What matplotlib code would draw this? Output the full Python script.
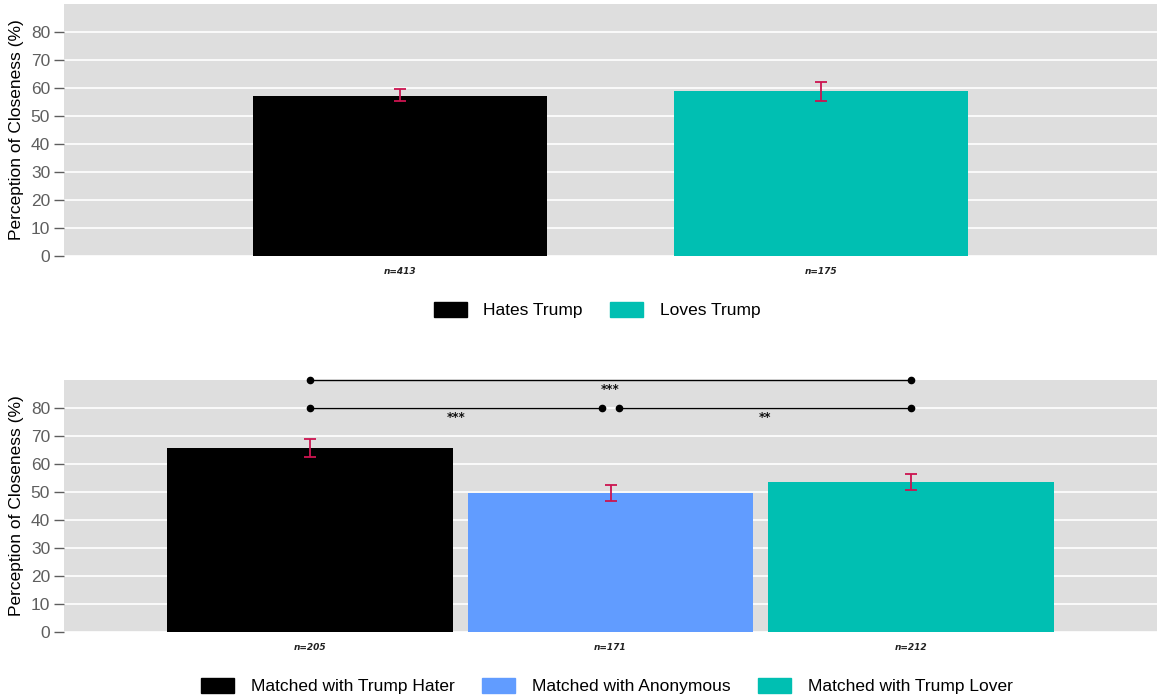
import matplotlib
matplotlib.use("Agg")
import matplotlib.pyplot as plt
from matplotlib.patches import Patch

plt.rcParams['font.family'] = ['Liberation Sans', 'DejaVu Sans']

# Panel 1: attitude toward Trump
top_groups = ["Hates Trump", "Loves Trump"]
top_means = [57.3, 58.8]
top_lo = [55.3, 55.5]
top_hi = [59.8, 62.1]
top_n = ["n=413", "n=175"]
top_colors = ["#000000", "#00BFB2"]

# Panel 2: matching condition
bot_groups = ["Matched with Trump Hater", "Matched with Anonymous", "Matched with Trump Lover"]
bot_means = [65.7, 49.6, 53.6]
bot_lo = [62.5, 46.8, 50.6]
bot_hi = [69.0, 52.4, 56.6]
bot_n = ["n=205", "n=171", "n=212"]
bot_colors = ["#000000", "#619CFF", "#00BFB2"]

# Pairwise comparisons: (group a, group b, y level, label)
comparisons = [(0, 1, 80, "***"), (1, 2, 80, "**"), (0, 2, 90, "***")]

yticks = [0, 10, 20, 30, 40, 50, 60, 70, 80]
panel_bg = "#DEDEDE"
err_color = "#CC1450"
tick_gray = "#5E5E5E"

W, H = 1159, 698
fig = plt.figure(figsize=(W / 100, H / 100), dpi=100)


def style_axes(ax):
    ax.set_facecolor(panel_bg)
    for s in ax.spines.values():
        s.set_visible(False)
    ax.set_ylim(0, 90)
    ax.set_yticks(yticks)
    ax.set_yticklabels([str(t) for t in yticks], fontsize=12.5, color=tick_gray)
    ax.tick_params(axis='y', length=7, width=1, color=tick_gray, pad=3)
    ax.tick_params(axis='x', length=0, labelbottom=False)
    ax.grid(axis='y', color='white', linewidth=1.2)
    ax.set_axisbelow(True)
    ax.set_ylabel("Perception of Closeness (%)", fontsize=12.5, color='black', labelpad=5)


def draw_bars(ax, means, lo, hi, ns, colors, width):
    x = list(range(1, len(means) + 1))
    ax.bar(x, means, width=width, color=colors, zorder=2)
    yerr = [[m - l for m, l in zip(means, lo)], [h - m for m, h in zip(means, hi)]]
    ax.errorbar(x, means, yerr=yerr, fmt='none', ecolor=err_color,
                elinewidth=1.3, capsize=4, capthick=1.3, zorder=3)
    for xi, t in zip(x, ns):
        ax.text(xi, -5.7, t, ha='center', va='center', fontsize=6.5,
                fontweight='bold', fontstyle='italic', family='DejaVu Sans',
                color='#222222', clip_on=False)


# Top panel
ax1 = fig.add_axes([64 / W, 1 - 256 / H, (1157 - 64) / W, 252 / H])
style_axes(ax1)
ax1.set_xlim(0.2, 2.8)
draw_bars(ax1, top_means, top_lo, top_hi, top_n, top_colors, 0.7)

leg1 = fig.legend(handles=[Patch(color=c, label=g) for g, c in zip(top_groups, top_colors)],
                  loc='center', bbox_to_anchor=(597 / W, 1 - 310 / H), ncol=2,
                  frameon=False, fontsize=12.5, handlelength=1.9, handleheight=0.95,
                  handletextpad=0.95, columnspacing=1.6)

# Bottom panel
ax2 = fig.add_axes([64 / W, 1 - 632 / H, (1157 - 64) / W, 252 / H])
style_axes(ax2)
ax2.set_xlim(0.183, 3.817)
draw_bars(ax2, bot_means, bot_lo, bot_hi, bot_n, bot_colors, 0.95)

off = 0.027
for a, b, lvl, lab in comparisons:
    xa, xb = a + 1, b + 1
    if lvl < 90:
        if a == 1:
            xa += off
        if b == 1:
            xb -= off
    ax2.plot([xa, xb], [lvl, lvl], color='black', linewidth=1.0,
             marker='o', markersize=4.5, clip_on=False, zorder=4)
    ax2.text((xa + xb) / 2, lvl - 3.3, lab, ha='center', va='center',
             fontsize=8.5, fontweight='bold', family='DejaVu Sans', color='#111111')

leg2 = fig.legend(handles=[Patch(color=c, label=g) for g, c in zip(bot_groups, bot_colors)],
                  loc='center', bbox_to_anchor=(607 / W, 1 - 686 / H), ncol=3,
                  frameon=False, fontsize=12.5, handlelength=1.9, handleheight=0.95,
                  handletextpad=0.95, columnspacing=1.6)

fig.savefig("out.png", dpi=100)
